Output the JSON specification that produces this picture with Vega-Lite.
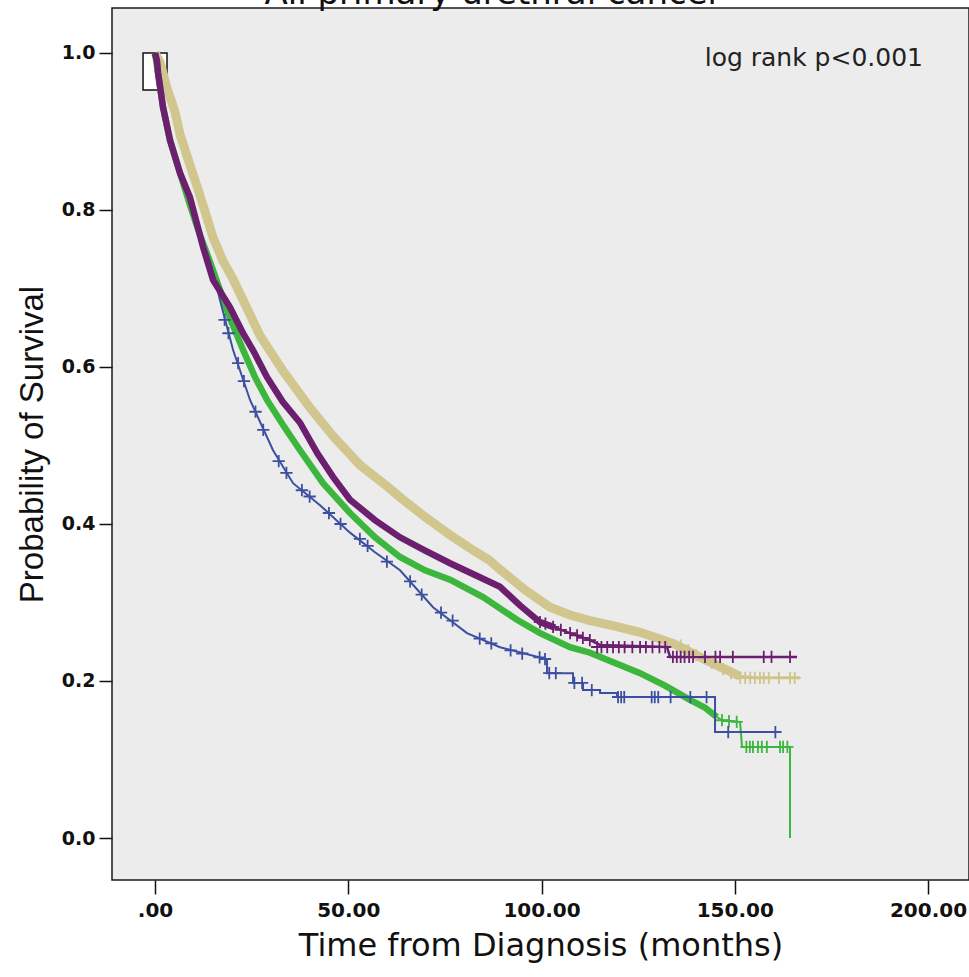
{
  "$schema": "https://vega.github.io/schema/vega-lite/v6.json",
  "width": 857,
  "height": 872,
  "autosize": {"type": "none"},
  "padding": {"left": 112, "top": 8, "right": 0, "bottom": 97},
  "background": "white",
  "config": {"view": {"fill": "#ECECEC", "stroke": "#1A1A1A", "strokeWidth": 1.5}},
  "datasets": {
    "curves": [
      {"g":"tan","i":1,"t":0,"S":1.0},{"g":"tan","i":2,"t":1.29,"S":0.9885},{"g":"tan","i":3,"t":3.1,"S":0.955},{"g":"tan","i":4,"t":5.17,"S":0.925},{"g":"tan","i":5,"t":6.47,"S":0.896},{"g":"tan","i":6,"t":9.06,"S":0.857},{"g":"tan","i":7,"t":10.87,"S":0.83},{"g":"tan","i":8,"t":12.94,"S":0.798},{"g":"tan","i":9,"t":15.01,"S":0.765},{"g":"tan","i":10,"t":17.59,"S":0.735},{"g":"tan","i":11,"t":20.18,"S":0.712},{"g":"tan","i":12,"t":23.29,"S":0.68},{"g":"tan","i":13,"t":27.17,"S":0.64},{"g":"tan","i":14,"t":33.12,"S":0.595},{"g":"tan","i":15,"t":40.1,"S":0.548},{"g":"tan","i":16,"t":46.05,"S":0.512},{"g":"tan","i":17,"t":53.04,"S":0.475},{"g":"tan","i":18,"t":60.03,"S":0.448},{"g":"tan","i":19,"t":63.39,"S":0.434},{"g":"tan","i":20,"t":69.86,"S":0.409},{"g":"tan","i":21,"t":76.33,"S":0.386},{"g":"tan","i":22,"t":82.79,"S":0.365},{"g":"tan","i":23,"t":86.5,"S":0.354},{"g":"tan","i":24,"t":89.26,"S":0.342},{"g":"tan","i":25,"t":95.73,"S":0.316},{"g":"tan","i":26,"t":102.2,"S":0.294},{"g":"tan","i":27,"t":107.37,"S":0.284},{"g":"tan","i":28,"t":112.55,"S":0.277},{"g":"tan","i":29,"t":119,"S":0.27},{"g":"tan","i":30,"t":125.49,"S":0.262},{"g":"tan","i":31,"t":134.02,"S":0.248},{"g":"tan","i":32,"t":142.82,"S":0.226},{"g":"tan","i":33,"t":151.36,"S":0.206},
      {"g":"tan2","i":1,"t":151.36,"S":0.206},{"g":"tan2","i":2,"t":155,"S":0.204},{"g":"tan2","i":3,"t":166.88,"S":0.204},
      {"g":"purple","i":1,"t":0,"S":1.0},{"g":"purple","i":2,"t":0.52,"S":0.99},{"g":"purple","i":3,"t":0.78,"S":0.975},{"g":"purple","i":4,"t":2.07,"S":0.931},{"g":"purple","i":5,"t":3.88,"S":0.889},{"g":"purple","i":6,"t":6.47,"S":0.847},{"g":"purple","i":7,"t":9.06,"S":0.816},{"g":"purple","i":8,"t":12.42,"S":0.753},{"g":"purple","i":9,"t":15.01,"S":0.711},{"g":"purple","i":10,"t":19.4,"S":0.676},{"g":"purple","i":11,"t":22.77,"S":0.643},{"g":"purple","i":12,"t":25.5,"S":0.62},{"g":"purple","i":13,"t":28.98,"S":0.587},{"g":"purple","i":14,"t":33,"S":0.556},{"g":"purple","i":15,"t":37.52,"S":0.529},{"g":"purple","i":16,"t":42,"S":0.49},{"g":"purple","i":17,"t":46.05,"S":0.46},{"g":"purple","i":18,"t":50.45,"S":0.431},{"g":"purple","i":19,"t":56.9,"S":0.405},{"g":"purple","i":20,"t":63.39,"S":0.383},{"g":"purple","i":21,"t":69.9,"S":0.366},{"g":"purple","i":22,"t":76.33,"S":0.35},{"g":"purple","i":23,"t":82.8,"S":0.335},{"g":"purple","i":24,"t":89.26,"S":0.32},{"g":"purple","i":25,"t":94.5,"S":0.296},{"g":"purple","i":26,"t":99.61,"S":0.275},{"g":"purple","i":27,"t":103.5,"S":0.268},
      {"g":"purple2","i":1,"t":103.5,"S":0.268},{"g":"purple2","i":2,"t":107.37,"S":0.261},{"g":"purple2","i":3,"t":112.55,"S":0.252},{"g":"purple2","i":4,"t":115.14,"S":0.246},{"g":"purple2","i":5,"t":132.47,"S":0.2433},{"g":"purple2","i":6,"t":133.25,"S":0.2306},{"g":"purple2","i":7,"t":166.11,"S":0.2306},
      {"g":"green","i":1,"t":0,"S":1.0},{"g":"green","i":2,"t":2.07,"S":0.931},{"g":"green","i":3,"t":3.88,"S":0.889},{"g":"green","i":4,"t":6.47,"S":0.847},{"g":"green","i":5,"t":9.06,"S":0.806},{"g":"green","i":6,"t":11.64,"S":0.768},{"g":"green","i":7,"t":14.23,"S":0.734},{"g":"green","i":8,"t":16.82,"S":0.698},{"g":"green","i":9,"t":19.4,"S":0.662},{"g":"green","i":10,"t":22.77,"S":0.622},{"g":"green","i":11,"t":25.87,"S":0.587},{"g":"green","i":12,"t":28.98,"S":0.558},{"g":"green","i":13,"t":33.12,"S":0.526},{"g":"green","i":14,"t":37.52,"S":0.494},{"g":"green","i":15,"t":43.47,"S":0.452},{"g":"green","i":16,"t":50.45,"S":0.414},{"g":"green","i":17,"t":56.92,"S":0.383},{"g":"green","i":18,"t":63.39,"S":0.358},{"g":"green","i":19,"t":69.86,"S":0.341},{"g":"green","i":20,"t":76.33,"S":0.329},{"g":"green","i":21,"t":84.86,"S":0.307},{"g":"green","i":22,"t":93.66,"S":0.278},{"g":"green","i":23,"t":99.61,"S":0.261},{"g":"green","i":24,"t":107.37,"S":0.243},{"g":"green","i":25,"t":112.55,"S":0.236},{"g":"green","i":26,"t":119.02,"S":0.223},{"g":"green","i":27,"t":125.49,"S":0.21},{"g":"green","i":28,"t":131.95,"S":0.194},{"g":"green","i":29,"t":138.42,"S":0.176},{"g":"green","i":30,"t":142.3,"S":0.166},{"g":"green","i":31,"t":145.41,"S":0.154},
      {"g":"green2","i":1,"t":145.41,"S":0.154},{"g":"green2","i":2,"t":146.7,"S":0.15},{"g":"green2","i":3,"t":151.36,"S":0.148},{"g":"green2","i":4,"t":151.88,"S":0.116},{"g":"green2","i":5,"t":164.29,"S":0.116},{"g":"green2","i":6,"t":164.29,"S":0.0},
      {"g":"blue","i":1,"t":0,"S":1.0},{"g":"blue","i":2,"t":2.07,"S":0.931},{"g":"blue","i":3,"t":3.88,"S":0.889},{"g":"blue","i":4,"t":6.47,"S":0.847},{"g":"blue","i":5,"t":9.06,"S":0.806},{"g":"blue","i":6,"t":11.64,"S":0.768},{"g":"blue","i":7,"t":14.23,"S":0.734},{"g":"blue","i":8,"t":15.52,"S":0.711},{"g":"blue","i":9,"t":16.82,"S":0.685},{"g":"blue","i":10,"t":20.18,"S":0.622},{"g":"blue","i":11,"t":24.58,"S":0.558},{"g":"blue","i":12,"t":30.53,"S":0.494},{"g":"blue","i":13,"t":35.71,"S":0.452},{"g":"blue","i":14,"t":42.69,"S":0.424},{"g":"blue","i":15,"t":50.45,"S":0.389},{"g":"blue","i":16,"t":56.92,"S":0.364},{"g":"blue","i":17,"t":63.39,"S":0.341},{"g":"blue","i":18,"t":71.93,"S":0.294},{"g":"blue","i":19,"t":80.72,"S":0.261},{"g":"blue","i":20,"t":89.26,"S":0.243},{"g":"blue","i":21,"t":98.84,"S":0.231},{"g":"blue","i":22,"t":101.42,"S":0.227},{"g":"blue","i":23,"t":101.42,"S":0.21},{"g":"blue","i":24,"t":108.15,"S":0.21},{"g":"blue","i":25,"t":108.15,"S":0.1975},{"g":"blue","i":26,"t":110.74,"S":0.1975},{"g":"blue","i":27,"t":110.74,"S":0.1885},{"g":"blue","i":28,"t":115.14,"S":0.1885},{"g":"blue","i":29,"t":115.14,"S":0.1847},{"g":"blue","i":30,"t":119.53,"S":0.1847},{"g":"blue","i":31,"t":119.53,"S":0.1796},{"g":"blue","i":32,"t":144.89,"S":0.1796},{"g":"blue","i":33,"t":144.89,"S":0.135},{"g":"blue","i":34,"t":161.71,"S":0.135}
    ],
    "censor": [
      {"g":"tan","t":136,"S":0.245},{"g":"tan","t":138,"S":0.239},{"g":"tan","t":140,"S":0.233},{"g":"tan","t":144,"S":0.223},{"g":"tan","t":147,"S":0.215},{"g":"tan","t":149,"S":0.21},{"g":"tan","t":151.4,"S":0.204},{"g":"tan","t":152.7,"S":0.204},{"g":"tan","t":154,"S":0.204},{"g":"tan","t":155.2,"S":0.204},{"g":"tan","t":156.5,"S":0.204},{"g":"tan","t":157.5,"S":0.204},{"g":"tan","t":158.8,"S":0.204},{"g":"tan","t":161.4,"S":0.204},{"g":"tan","t":164.3,"S":0.204},{"g":"tan","t":165.5,"S":0.204},
      {"g":"green","t":146.7,"S":0.15},{"g":"green","t":148.5,"S":0.149},{"g":"green","t":150.5,"S":0.148},{"g":"green","t":153,"S":0.116},{"g":"green","t":153.9,"S":0.116},{"g":"green","t":154.7,"S":0.116},{"g":"green","t":156,"S":0.116},{"g":"green","t":157,"S":0.116},{"g":"green","t":158.3,"S":0.116},{"g":"green","t":161.7,"S":0.116},{"g":"green","t":162.5,"S":0.116},{"g":"green","t":163.6,"S":0.116},
      {"g":"blue","t":18,"S":0.66},{"g":"blue","t":19,"S":0.643},{"g":"blue","t":21.5,"S":0.605},{"g":"blue","t":23,"S":0.582},{"g":"blue","t":26,"S":0.543},{"g":"blue","t":28,"S":0.52},{"g":"blue","t":32,"S":0.48},{"g":"blue","t":34,"S":0.465},{"g":"blue","t":38,"S":0.443},{"g":"blue","t":40,"S":0.435},{"g":"blue","t":45,"S":0.414},{"g":"blue","t":48,"S":0.4},{"g":"blue","t":53,"S":0.381},{"g":"blue","t":55,"S":0.372},{"g":"blue","t":60,"S":0.352},{"g":"blue","t":66,"S":0.327},{"g":"blue","t":69,"S":0.31},{"g":"blue","t":74,"S":0.287},{"g":"blue","t":77,"S":0.277},{"g":"blue","t":84,"S":0.254},{"g":"blue","t":87,"S":0.248},{"g":"blue","t":92,"S":0.239},{"g":"blue","t":95,"S":0.235},{"g":"blue","t":99.5,"S":0.23},{"g":"blue","t":100.9,"S":0.228},{"g":"blue","t":102,"S":0.21},{"g":"blue","t":103.7,"S":0.21},{"g":"blue","t":108.5,"S":0.1975},{"g":"blue","t":110.5,"S":0.1975},{"g":"blue","t":113,"S":0.1885},{"g":"blue","t":119.8,"S":0.1796},{"g":"blue","t":120.6,"S":0.1796},{"g":"blue","t":121.4,"S":0.1796},{"g":"blue","t":128.5,"S":0.1796},{"g":"blue","t":129.3,"S":0.1796},{"g":"blue","t":130.2,"S":0.1796},{"g":"blue","t":133.4,"S":0.1796},{"g":"blue","t":138.5,"S":0.1796},{"g":"blue","t":142.7,"S":0.1796},{"g":"blue","t":148.3,"S":0.135},{"g":"blue","t":160.5,"S":0.135},
      {"g":"purple","t":99.6,"S":0.275},{"g":"purple","t":101,"S":0.273},{"g":"purple","t":103,"S":0.269},{"g":"purple","t":105,"S":0.265},{"g":"purple","t":107.4,"S":0.261},{"g":"purple","t":109.2,"S":0.258},{"g":"purple","t":110.7,"S":0.255},{"g":"purple","t":112.5,"S":0.252},{"g":"purple","t":114.4,"S":0.2433},{"g":"purple","t":115.5,"S":0.2433},{"g":"purple","t":117,"S":0.2433},{"g":"purple","t":118.5,"S":0.2433},{"g":"purple","t":120,"S":0.2433},{"g":"purple","t":121.5,"S":0.2433},{"g":"purple","t":123.5,"S":0.2433},{"g":"purple","t":125.5,"S":0.2433},{"g":"purple","t":127,"S":0.2433},{"g":"purple","t":128.7,"S":0.2433},{"g":"purple","t":130.5,"S":0.2433},{"g":"purple","t":132,"S":0.2433},{"g":"purple","t":134,"S":0.2306},{"g":"purple","t":135,"S":0.2306},{"g":"purple","t":136,"S":0.2306},{"g":"purple","t":137,"S":0.2306},{"g":"purple","t":138.2,"S":0.2306},{"g":"purple","t":139.2,"S":0.2306},{"g":"purple","t":142.3,"S":0.2306},{"g":"purple","t":145,"S":0.2306},{"g":"purple","t":146.2,"S":0.2306},{"g":"purple","t":149.5,"S":0.2306},{"g":"purple","t":157.5,"S":0.2306},{"g":"purple","t":159.5,"S":0.2306},{"g":"purple","t":164.3,"S":0.2306}
    ]
  },
  "encoding": {
    "x": {"field": "t", "type": "quantitative", "scale": {"domain": [-11.13, 210.6], "nice": false, "zero": false},
      "axis": {"title": "Time from Diagnosis (months)", "values": [0, 50, 100, 150, 200], "labelExpr": "datum.value == 0 ? '.00' : format(datum.value, '.2f')", "grid": false, "domain": false, "tickSize": 14, "tickWidth": 1.5, "tickColor": "#111", "labelFont": "DejaVu Sans", "labelFontSize": 20, "labelFontWeight": "bold", "labelColor": "#111", "labelPadding": 6, "labelFlush": false, "labelOverlap": false, "labelBound": false, "titleFont": "DejaVu Sans", "titleFontSize": 32, "titleFontWeight": "normal", "titleColor": "#111", "titlePadding": 10}},
    "y": {"field": "S", "type": "quantitative", "scale": {"domain": [-0.0535, 1.0573], "nice": false, "zero": false},
      "axis": {"title": "Probability of Survival", "values": [0, 0.2, 0.4, 0.6, 0.8, 1.0], "format": ".1f", "grid": false, "domain": false, "tickSize": 13, "tickWidth": 1.5, "tickColor": "#111", "labelFont": "DejaVu Sans", "labelFontSize": 19, "labelFontWeight": "bold", "labelColor": "#111", "labelPadding": 4, "labelFlush": false, "labelOverlap": false, "titleFont": "Liberation Sans", "titleFontSize": 33, "titleFontWeight": "normal", "titleColor": "#111", "titlePadding": 12}}
  },
  "layer": [
    {"data": {"values": [{"t": -3.1, "t2": 3.1, "S": 0.953, "S2": 1.0}]}, "mark": {"type": "rect", "fill": "white", "stroke": "#111", "strokeWidth": 1.5}, "encoding": {"x2": {"field": "t2"}, "y2": {"field": "S2"}}},
    {"data": {"name": "curves"}, "transform": [{"filter": "datum.g === 'tan'"}], "mark": {"type": "line", "color": "#D1C68D", "strokeWidth": 9}, "encoding": {"order": {"field": "i", "type": "quantitative"}}},
    {"data": {"name": "curves"}, "transform": [{"filter": "datum.g === 'tan2'"}], "mark": {"type": "line", "color": "#D1C68D", "strokeWidth": 3}, "encoding": {"order": {"field": "i", "type": "quantitative"}}},
    {"data": {"name": "curves"}, "transform": [{"filter": "datum.g === 'green'"}], "mark": {"type": "line", "color": "#3DB63E", "strokeWidth": 6.5}, "encoding": {"order": {"field": "i", "type": "quantitative"}}},
    {"data": {"name": "curves"}, "transform": [{"filter": "datum.g === 'green2'"}], "mark": {"type": "line", "color": "#3DB63E", "strokeWidth": 2}, "encoding": {"order": {"field": "i", "type": "quantitative"}}},
    {"data": {"name": "curves"}, "transform": [{"filter": "datum.g === 'blue'"}], "mark": {"type": "line", "color": "#3D4FA1", "strokeWidth": 2}, "encoding": {"order": {"field": "i", "type": "quantitative"}}},
    {"data": {"name": "curves"}, "transform": [{"filter": "datum.g === 'purple'"}], "mark": {"type": "line", "color": "#6B1F6E", "strokeWidth": 6.5}, "encoding": {"order": {"field": "i", "type": "quantitative"}}},
    {"data": {"name": "curves"}, "transform": [{"filter": "datum.g === 'purple2'"}], "mark": {"type": "line", "color": "#6B1F6E", "strokeWidth": 2.5}, "encoding": {"order": {"field": "i", "type": "quantitative"}}},
    {"data": {"name": "censor"}, "mark": {"type": "point", "shape": "M-1,0L1,0M0,-1L0,1", "filled": false, "strokeWidth": 1.8, "size": 150, "opacity": 1},
      "encoding": {"color": {"field": "g", "type": "nominal", "scale": {"domain": ["tan", "purple", "green", "blue"], "range": ["#CFC48A", "#6B1F6E", "#3DB63E", "#3D4FA1"]}, "legend": null}}},
    {"data": {"values": [{"t": 198.7, "S": 0.983, "label": "log rank p<0.001"}]}, "mark": {"type": "text", "align": "right", "baseline": "alphabetic", "font": "DejaVu Sans", "fontSize": 25, "color": "#222"}, "encoding": {"text": {"field": "label", "type": "nominal"}}},
    {"data": {"values": [{"t": 87.45, "S": 1.0624, "label": "All primary urethral cancer"}]}, "mark": {"type": "text", "align": "center", "baseline": "alphabetic", "font": "DejaVu Sans", "fontSize": 34, "color": "#111", "clip": false}, "encoding": {"text": {"field": "label", "type": "nominal"}}}
  ]
}
